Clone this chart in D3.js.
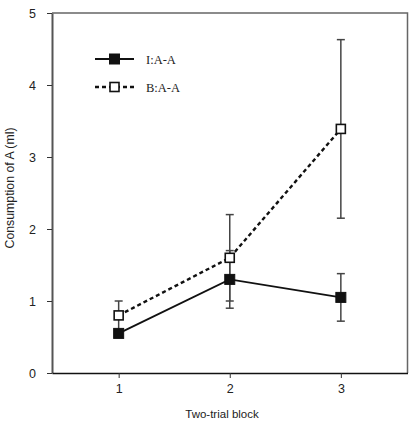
<!DOCTYPE html>
<html>
<head>
<meta charset="utf-8">
<script src="https://cdn.jsdelivr.net/npm/d3@7"></script>
<style>
	body { margin: 0; background: #fff; }
	svg { display: block; }
</style>
</head>
<body>
<script>
// chart values
const blocks = [1, 2, 3];
const seriesNames = ["I:A-A", "B:A-A"];
const iMeans = [0.55, 1.3, 1.05];
const iErr = [0.05, 0.4, 0.33];
const bMeans = [0.8, 1.6, 3.39];
const bErr = [0.2, 0.6, 1.24];
const yTicks = [0, 1, 2, 3, 4, 5];

const width = 415;
const height = 426;
const margin = { top: 13, right: 7.5, bottom: 53, left: 52 };

const svg = d3
	.select("body")
	.append("svg")
	.attr("width", width)
	.attr("height", height);

const x = d3
	.scaleLinear()
	.domain([0.4, 3.6])
	.range([margin.left, width - margin.right]);
const y = d3
	.scaleLinear()
	.domain([0, 5])
	.range([height - margin.bottom, margin.top]);

const series = [
	{ name: seriesNames[0], means: iMeans, err: iErr, filled: true },
	{ name: seriesNames[1], means: bMeans, err: bErr, filled: false },
];

// frame top / right
svg
	.append("path")
	.attr("d", `M${x(0.4)},${y(5)}H${x(3.6)}V${y(0)}`)
	.attr("fill", "none")
	.attr("stroke", "#666")
	.attr("stroke-width", 1.5);

// axes
const yAxis = svg
	.append("g")
	.attr("transform", `translate(${margin.left},0)`)
	.call(
		d3.axisLeft(y).tickValues(yTicks).tickFormat(d3.format("d"))
			.tickSize(5).tickPadding(11).tickSizeOuter(0)
	);
yAxis.select(".domain").attr("stroke", "#555").attr("stroke-width", 2);
yAxis.selectAll(".tick line").attr("stroke", "#333");
yAxis
	.selectAll("text")
	.attr("font-family", "Liberation Sans, Arial, sans-serif")
	.attr("font-size", 12.5)
	.attr("fill", "#222");

const xAxis = svg
	.append("g")
	.attr("transform", `translate(0,${y(0)})`)
	.call(
		d3.axisBottom(x).tickValues(blocks).tickFormat(d3.format("d"))
			.tickSize(5).tickPadding(6).tickSizeOuter(0)
	);
xAxis.select(".domain").attr("stroke", "#111").attr("stroke-width", 1.5);
xAxis.selectAll(".tick line").attr("stroke", "#333");
xAxis
	.selectAll("text")
	.attr("font-family", "Liberation Sans, Arial, sans-serif")
	.attr("font-size", 12.5)
	.attr("fill", "#222");

svg
	.append("text")
	.attr("x", 222)
	.attr("y", 418)
	.attr("text-anchor", "middle")
	.attr("font-family", "Liberation Sans, Arial, sans-serif")
	.attr("font-size", 11.5)
	.attr("fill", "#222")
	.text("Two-trial block");

svg
	.append("text")
	.attr("transform", `translate(13.5,188) rotate(-90)`)
	.attr("text-anchor", "middle")
	.attr("font-family", "Liberation Sans, Arial, sans-serif")
	.attr("font-size", 12.3)
	.attr("fill", "#222")
	.text("Consumption of A (ml)");

// lines
const line = d3
	.line()
	.x((d, i) => x(blocks[i]))
	.y((d) => y(d));

series.forEach((s) => {
	svg
		.append("path")
		.attr("d", line(s.means))
		.attr("fill", "none")
		.attr("stroke", "#111")
		.attr("stroke-width", s.filled ? 1.8 : 2.4)
		.attr("stroke-dasharray", s.filled ? null : "4,3");
});

// error bars
series.forEach((s) => {
	const g = svg.append("g").attr("stroke", "#444").attr("stroke-width", 1.5);
	s.means.forEach((m, i) => {
		const cx = x(blocks[i]);
		g.append("line")
			.attr("x1", cx)
			.attr("x2", cx)
			.attr("y1", y(m - s.err[i]))
			.attr("y2", y(m + s.err[i]));
		[m - s.err[i], m + s.err[i]].forEach((v) => {
			g.append("line")
				.attr("x1", cx - 4)
				.attr("x2", cx + 4)
				.attr("y1", y(v))
				.attr("y2", y(v));
		});
	});
});

// markers
series.forEach((s) => {
	const size = s.filled ? 10 : 9;
	svg
		.append("g")
		.selectAll("rect")
		.data(s.means)
		.enter()
		.append("rect")
		.attr("x", (d, i) => x(blocks[i]) - size / 2)
		.attr("y", (d) => y(d) - size / 2)
		.attr("width", size)
		.attr("height", size)
		.attr("fill", s.filled ? "#111" : "#fff")
		.attr("stroke", "#111")
		.attr("stroke-width", s.filled ? 1 : 1.6);
});

// legend
const legend = svg.append("g");
series.forEach((s, i) => {
	const ly = 59 + i * 28;
	legend
		.append("line")
		.attr("x1", 95)
		.attr("x2", 134)
		.attr("y1", ly)
		.attr("y2", ly)
		.attr("stroke", "#111")
		.attr("stroke-width", s.filled ? 1.8 : 2.4)
		.attr("stroke-dasharray", s.filled ? null : "4,3");
	const size = s.filled ? 10 : 9;
	legend
		.append("rect")
		.attr("x", 114.5 - size / 2)
		.attr("y", ly - size / 2)
		.attr("width", size)
		.attr("height", size)
		.attr("fill", s.filled ? "#111" : "#fff")
		.attr("stroke", "#111")
		.attr("stroke-width", s.filled ? 1 : 1.6);
	legend
		.append("text")
		.attr("x", 146)
		.attr("y", ly + 4.5)
		.attr("font-family", "Liberation Serif, Times New Roman, serif")
		.attr("font-size", 12.5)
		.attr("fill", "#222")
		.text(s.name);
});
</script>
</body>
</html>
